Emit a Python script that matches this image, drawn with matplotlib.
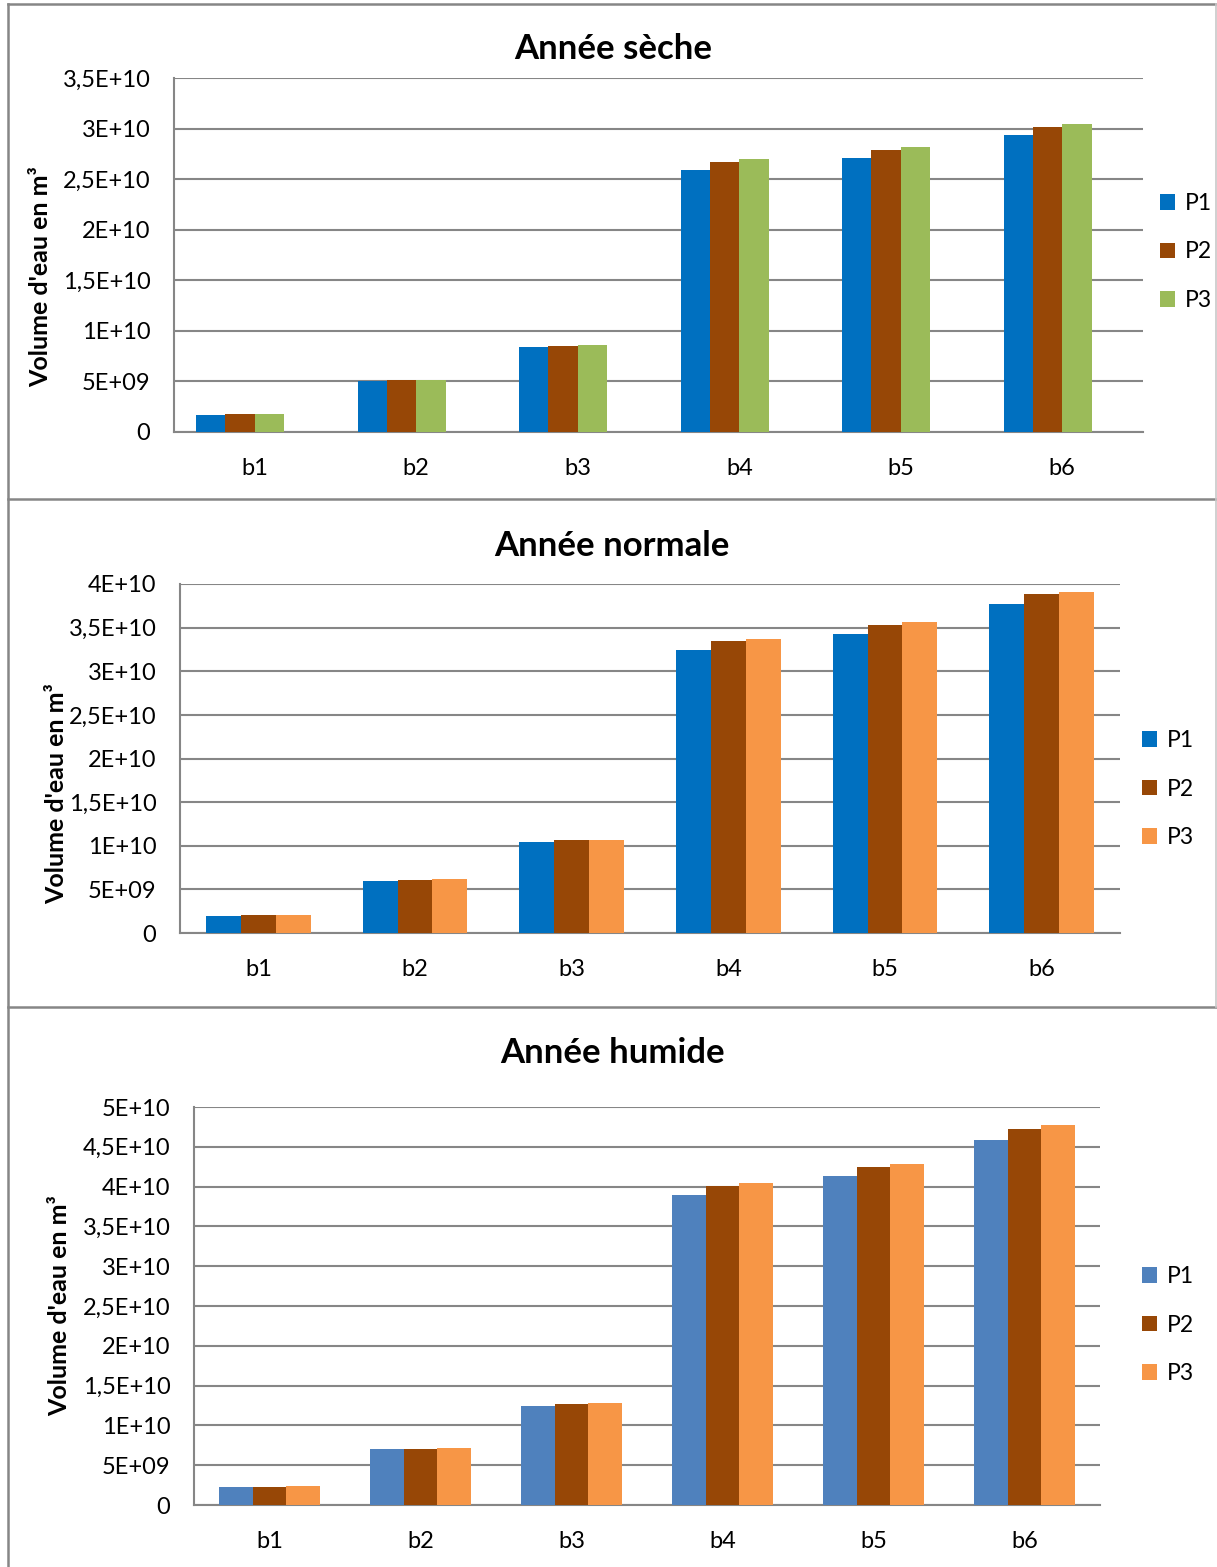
import numpy as np
import matplotlib
matplotlib.use('Agg')
from matplotlib import pyplot as plt
from matplotlib.lines import Line2D

plt.rcParams['font.family'] = ['Lato', 'DejaVu Sans']

W, H = 1217, 1567

#data (m3)
categories = ['b1', 'b2', 'b3', 'b4', 'b5', 'b6']
series = ['P1', 'P2', 'P3']

seche_P1 = [1.66e9, 5.03e9, 8.40e9, 25.9e9, 27.1e9, 29.4e9]
seche_P2 = [1.76e9, 5.13e9, 8.50e9, 26.7e9, 27.9e9, 30.2e9]
seche_P3 = [1.79e9, 5.16e9, 8.57e9, 26.95e9, 28.15e9, 30.5e9]

normale_P1 = [1.98e9, 6.00e9, 10.43e9, 32.4e9, 34.3e9, 37.7e9]
normale_P2 = [2.06e9, 6.11e9, 10.62e9, 33.5e9, 35.3e9, 38.8e9]
normale_P3 = [2.06e9, 6.15e9, 10.70e9, 33.7e9, 35.6e9, 39.1e9]

humide_P1 = [2.22e9, 6.99e9, 12.5e9, 38.9e9, 41.3e9, 45.9e9]
humide_P2 = [2.30e9, 7.07e9, 12.7e9, 40.1e9, 42.5e9, 47.2e9]
humide_P3 = [2.34e9, 7.11e9, 12.8e9, 40.5e9, 42.9e9, 47.7e9]

ticks_seche = [0, 5e9, 1e10, 1.5e10, 2e10, 2.5e10, 3e10, 3.5e10]
labels_seche = ['0', '5E+09', '1E+10', '1,5E+10', '2E+10', '2,5E+10', '3E+10', '3,5E+10']
ticks_normale = [0, 5e9, 1e10, 1.5e10, 2e10, 2.5e10, 3e10, 3.5e10, 4e10]
labels_normale = ['0', '5E+09', '1E+10', '1,5E+10', '2E+10', '2,5E+10', '3E+10', '3,5E+10', '4E+10']
ticks_humide = [0, 5e9, 1e10, 1.5e10, 2e10, 2.5e10, 3e10, 3.5e10, 4e10, 4.5e10, 5e10]
labels_humide = ['0', '5E+09', '1E+10', '1,5E+10', '2E+10', '2,5E+10', '3E+10', '3,5E+10', '4E+10', '4,5E+10', '5E+10']

GRID = '#868686'

def px_rect(x0, y0, x1, y1):
    return [x0 / W, 1 - y1 / H, (x1 - x0) / W, (y1 - y0) / H]

def panel(fig, box, title, title_xy, ylab_xy, vals, colors, nslots, ticks, labels, leg_xy):
    ax = fig.add_axes(px_rect(*box))
    x = np.arange(len(categories))
    #excel style: gap width 150%, nslots bar slots per category
    bar_w = 1.0 / (nslots + 1.5)
    handles = []
    for k, (v, c) in enumerate(zip(vals, colors)):
        off = (k - (nslots - 1) / 2) * bar_w
        b = ax.bar(x + off, v, bar_w, color=c, label=series[k], zorder=3)
        handles.append(b)
    ax.set_xlim(-0.5, len(categories) - 0.5)
    ax.set_ylim(0, ticks[-1])
    ax.set_yticks(ticks)
    ax.set_yticklabels(labels)
    ax.set_xticks(x)
    ax.set_xticklabels(categories)
    ax.tick_params(axis='y', length=0, pad=17, labelsize=17)
    ax.tick_params(axis='x', length=0, pad=18.5, labelsize=17)
    ax.yaxis.grid(True, color=GRID, linewidth=1.5, zorder=0)
    for s in ['top', 'right']:
        ax.spines[s].set_visible(False)
    for s in ['left', 'bottom']:
        ax.spines[s].set_color(GRID)
        ax.spines[s].set_linewidth(1.5)
    fig.text(title_xy[0] / W, 1 - title_xy[1] / H, title, ha='center', va='center',
             fontsize=25, fontweight='bold')
    fig.text(ylab_xy[0] / W, 1 - ylab_xy[1] / H, "Volume d'eau en m³", rotation=90,
             ha='center', va='center', fontsize=18, fontweight='bold')
    fig.legend(handles=handles, loc='center left', frameon=False,
               bbox_to_anchor=(leg_xy[0] / W, 1 - leg_xy[1] / H),
               fontsize=16.5, handlelength=0.65, handleheight=0.65,
               handletextpad=0.45, labelspacing=1.2, borderpad=0, borderaxespad=0)
    return ax

fig = plt.figure(figsize=(W / 100, H / 100), dpi=100)

#panel frames
def fline(xs, ys, c=GRID, lw=1.8):
    fig.add_artist(Line2D([v / W for v in xs], [1 - v / H for v in ys],
                          transform=fig.transFigure, color=c, linewidth=lw))

fline([8, 8], [4, 1567])
for y in [4, 498.5, 1007]:
    fline([8, 1217], [y, y])
fline([1216, 1216], [4, 1007], c='#c8c8c8', lw=1.2)

panel(fig, (174, 78, 1143, 432), 'Année sèche', (613, 49), (41, 277),
      [seche_P1, seche_P2, seche_P3], ['#0070C0', '#974706', '#9BBB59'],
      4, ticks_seche, labels_seche, (1160, 252))

panel(fig, (180, 584, 1120, 933), 'Année normale', (612, 546), (57, 794),
      [normale_P1, normale_P2, normale_P3], ['#0070C0', '#974706', '#F79646'],
      3, ticks_normale, labels_normale, (1142, 789))

panel(fig, (194, 1107, 1100, 1505), 'Année humide', (613, 1053), (60, 1306),
      [humide_P1, humide_P2, humide_P3], ['#4F81BD', '#974706', '#F79646'],
      3, ticks_humide, labels_humide, (1142, 1325))

fig.savefig('out.png', dpi=100, facecolor='white')
